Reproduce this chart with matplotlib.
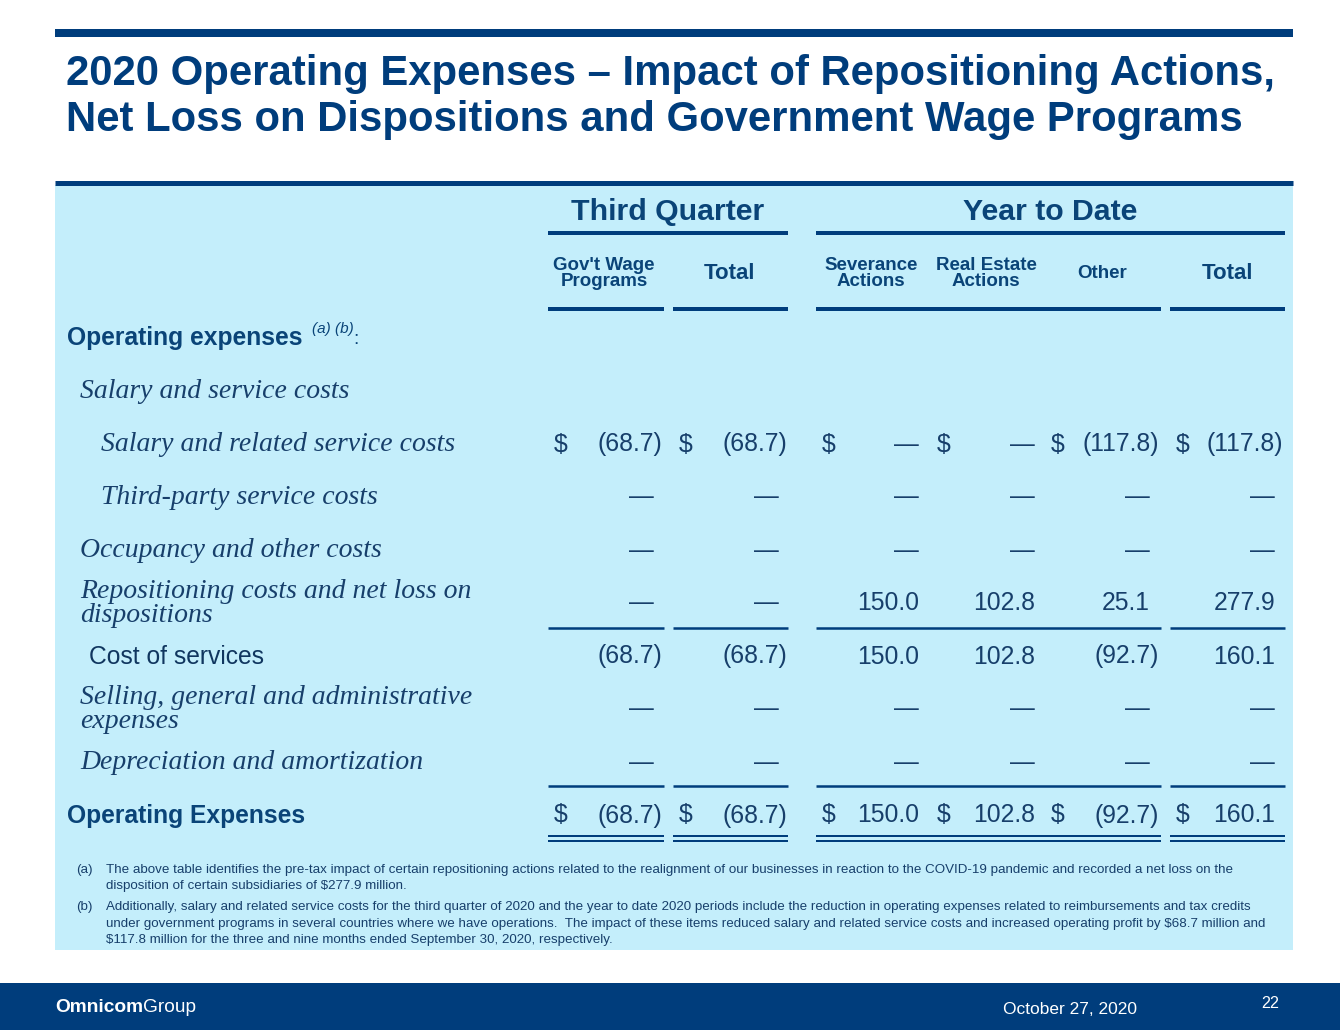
import matplotlib
matplotlib.use("Agg")
import matplotlib.pyplot as plt

# Table data
col_groups = ["Third Quarter", "Year to Date"]
col_headers = ["Gov't Wage\nPrograms", "Total", "Severance\nActions", "Real Estate\nActions", "Other", "Total"]
row_labels = [
    "Salary and related service costs",
    "Third-party service costs",
    "Occupancy and other costs",
    "Repositioning costs and net loss on\ndispositions",
    "Cost of services",
    "Selling, general and administrative\nexpenses",
    "Depreciation and amortization",
    "Operating Expenses",
]
salary_related = [-68.7, -68.7, 0, 0, -117.8, -117.8]
third_party = [0, 0, 0, 0, 0, 0]
occupancy = [0, 0, 0, 0, 0, 0]
repositioning = [0, 0, 150.0, 102.8, 25.1, 277.9]
cost_of_services = [-68.7, -68.7, 150.0, 102.8, -92.7, 160.1]
sga = [0, 0, 0, 0, 0, 0]
dep_amort = [0, 0, 0, 0, 0, 0]
operating_expenses = [-68.7, -68.7, 150.0, 102.8, -92.7, 160.1]
values = [salary_related, third_party, occupancy, repositioning,
          cost_of_services, sga, dep_amort, operating_expenses]
dollar_rows = [0, 7]

footnote_a = ["The above table identifies the pre-tax impact of certain repositioning actions related to the realignment of our businesses in reaction to the COVID-19 pandemic and recorded a net loss on the",
              "disposition of certain subsidiaries of $277.9 million."]
footnote_b = ["Additionally, salary and related service costs for the third quarter of 2020 and the year to date 2020 periods include the reduction in operating expenses related to reimbursements and tax credits",
              "under government programs in several countries where we have operations.  The impact of these items reduced salary and related service costs and increased operating profit by $68.7 million and",
              "$117.8 million for the three and nine months ended September 30, 2020, respectively."]

# colours / layout
navy = "#003D7C"
panel = "#C4EEFB"
txt = "#0A4478"
txt2 = "#173F6B"
sans = "Liberation Sans"
serif = "Liberation Serif"
dy = 2.5  # matplotlib's "center" sits a little high vs. the slide

fig = plt.figure(figsize=(13.4, 10.3), dpi=100)
ax = fig.add_axes([0, 0, 1, 1])
ax.set_xlim(0, 1340)
ax.set_ylim(1030, 0)
ax.axis("off")

def px(t):
    return t * 72 / 100

# background pieces
ax.add_patch(plt.Rectangle((55, 185), 1238, 765, color=panel, lw=0))
ax.hlines(33, 55, 1293, color=navy, lw=px(8))
ax.hlines(182.5, 55, 1293, color=navy, lw=px(5))
ax.add_patch(plt.Rectangle((0, 983), 1340, 47, color=navy, lw=0))

# title
ax.text(66, 71 + 3, "2020 Operating Expenses \u2013 Impact of Repositioning Actions,", fontsize=30.2,
        fontweight="bold", family=sans, color=navy, va="center")
ax.text(66, 117 + 3, "Net Loss on Dispositions and Government Wage Programs", fontsize=30.2,
        fontweight="bold", family=sans, color=navy, va="center")

# column geometry
x_right = [653.5, 778.5, 919, 1035, 1150, 1275]
x_dollar = [554, 679, 822, 937, 1051, 1176]
spans = [(548, 664), (673, 788), (816, 1161), (1170, 1285)]
head_cx = [604, 730, 871, 986, 1102, 1227]

ax.text(668, 210 + dy, col_groups[0], fontsize=21.8, fontweight="bold", family=sans, color=txt,
        ha="center", va="center")
ax.text(1050, 210 + dy, col_groups[1], fontsize=21.8, fontweight="bold", family=sans, color=txt,
        ha="center", va="center")
ax.hlines([233, 233], [548, 816], [788, 1285], color=navy, lw=px(4))
for i, h in enumerate(col_headers):
    big = h == "Total"
    ax.text(head_cx[i], 271 + dy, h, fontsize=16 if big else 13.5, fontweight="bold", family=sans, color=txt,
            ha="center", va="center", linespacing=0.95)
for a, b in spans:
    ax.hlines(309, a, b, color=navy, lw=px(4))

# row labels
ax.text(67, 335 + dy, "Operating expenses", fontsize=17.7, fontweight="bold", family=sans, color=txt, va="center")
ax.text(312, 326 + dy, "(a) (b)", fontsize=11, style="italic", family=sans, color=txt, va="center")
ax.text(353, 337 + dy, ":", fontsize=14, family=sans, color=txt, va="center")
ax.text(80, 389 + dy, "Salary and service costs", fontsize=20, style="italic", family=serif, color=txt2,
        va="center")

row_y = [442, 495, 548, 601, 654, 707, 760, 813]
label_x = [101, 101, 80, 80, 89, 80, 80, 67]
for r, lab in enumerate(row_labels):
    y = row_y[r] + dy
    if r == 7:
        ax.text(label_x[r], y, lab, fontsize=17.7, fontweight="bold", family=sans, color=txt, va="center")
    elif r == 4:
        ax.text(label_x[r], y, lab, fontsize=17.7, family=sans, color="#10365F", va="center")
    else:
        ax.text(label_x[r], y, lab, fontsize=20, style="italic", family=serif, color=txt2,
                va="center", linespacing=0.9)

# values
for r, row in enumerate(values):
    y = row_y[r] + dy
    for c, v in enumerate(row):
        if v == 0:
            s, x = "\u2014", x_right[c]
        elif v < 0:
            s, x = "(%.1f)" % -v, x_right[c] + 8.5
        else:
            s, x = "%.1f" % v, x_right[c]
        ax.text(x, y, s, fontsize=17.8, family=sans, color=txt2, ha="right", va="center", parse_math=False)
        if r in dollar_rows:
            ax.text(x_dollar[c], y, "$", fontsize=17.8, family=sans, color=txt2, ha="left", va="center",
                    parse_math=False)

# rules
for a, b in spans:
    ax.hlines(628, a, b, color=navy, lw=px(2.5))
    ax.hlines(786, a, b, color=navy, lw=px(2.5))
    ax.hlines([836, 841], a, b, color=navy, lw=px(2))

# footnotes
fs_fn = 9.68
fn_y = 869 + 1
ax.text(76, fn_y, "(a)", fontsize=fs_fn, family=sans, color=txt2, va="center")
for i, line in enumerate(footnote_a):
    ax.text(106, fn_y + 16.5 * i, line, fontsize=fs_fn, family=sans, color=txt2, va="center", parse_math=False)
fn_y = 906 + 1
ax.text(76, fn_y, "(b)", fontsize=fs_fn, family=sans, color=txt2, va="center")
for i, line in enumerate(footnote_b):
    ax.text(106, fn_y + 16.5 * i, line, fontsize=fs_fn, family=sans, color=txt2, va="center", parse_math=False)

# footer
t1 = ax.text(55, 1007, "Omnicom", fontsize=13.8, fontweight="bold", family=sans, color="white", va="center")
fig.canvas.draw()
x_end = t1.get_window_extent().x1  # axes spans the figure 1:1, so pixels == data x
ax.text(x_end, 1007, "Group", fontsize=13.8, family=sans, color="white", va="center")
ax.text(1003, 1009, "October 27, 2020", fontsize=12.5, family=sans, color="white", va="center")
ax.text(1270, 1004, "22", fontsize=11.6, family=sans, color="white", va="center", ha="center")

fig.savefig("out.png", dpi=100, facecolor="white")
